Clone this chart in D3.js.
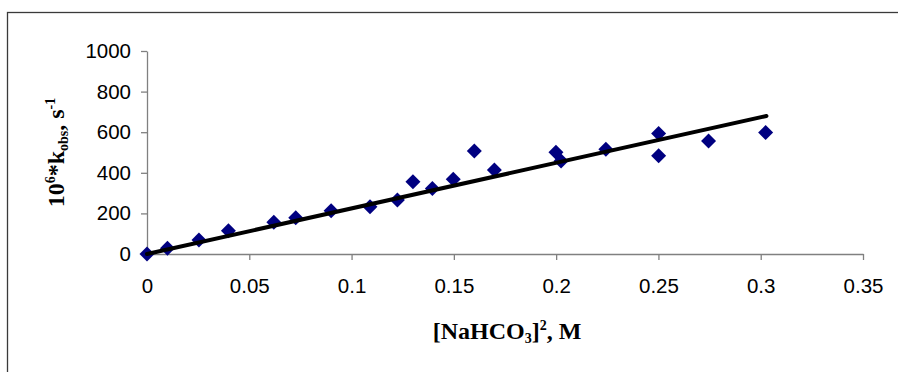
<!DOCTYPE html>
<html>
<head>
<meta charset="utf-8">
<script src="https://cdn.jsdelivr.net/npm/d3@7"></script>
<style>
  body { margin: 0; background: #fff; }
</style>
</head>
<body>
<div id="chart"></div>
<script>
// data
const conc2 = [0, 0.01, 0.0254, 0.0398, 0.062, 0.0727, 0.09, 0.109, 0.1224, 0.130, 0.1395, 0.1497,
               0.160, 0.1698, 0.1999, 0.2024, 0.2243, 0.2501, 0.2501, 0.2745, 0.3024];
const kobs = [0, 28, 69, 115, 156, 179, 213, 233, 266, 356, 323, 368,
              507, 414, 501, 458, 516, 594, 484, 557, 598];
// trend line end points
const trendX = [0, 0.3028];
const trendY = [0, 680];
const xTicks = [0, 0.05, 0.1, 0.15, 0.2, 0.25, 0.3, 0.35];
const xTickLabels = ["0", "0.05", "0.1", "0.15", "0.2", "0.25", "0.3", "0.35"];
const yTicks = [0, 200, 400, 600, 800, 1000];

const margin = {top: 51, left: 147},
      width = 716,
      height = 203;

const svg = d3.select("#chart")
    .append("svg")
    .attr("width", 898)
    .attr("height", 372);

// outer frame (runs off right and bottom edges)
svg.append("rect")
    .attr("x", 7.5)
    .attr("y", 12.5)
    .attr("width", 1000)
    .attr("height", 500)
    .attr("fill", "none")
    .attr("stroke", "#3a3a3a")
    .attr("stroke-width", 1.3);

const g = svg.append("g")
    .attr("transform", `translate(${margin.left},${margin.top})`);

const x = d3.scaleLinear().domain([0, 0.35]).range([0, width]);
const y = d3.scaleLinear().domain([0, 1000]).range([height, 0]);

// X axis
const xAxis = g.append("g")
    .attr("transform", `translate(0,${height})`)
    .call(d3.axisBottom(x)
        .tickValues(xTicks)
        .tickFormat((d, i) => xTickLabels[i])
        .tickSize(6)
        .tickSizeOuter(0)
        .tickPadding(18.5));

// Y axis
const yAxis = g.append("g")
    .call(d3.axisLeft(y)
        .tickValues(yTicks)
        .tickFormat(d3.format("d"))
        .tickSize(6)
        .tickSizeOuter(0)
        .tickPadding(10));

[xAxis, yAxis].forEach(a => {
    a.select(".domain").attr("stroke", "#808080").attr("stroke-width", 1.3);
    a.selectAll(".tick line").attr("stroke", "#808080").attr("stroke-width", 1.3);
    a.selectAll(".tick text")
        .attr("fill", "#000")
        .style("font-family", "'Liberation Sans', Arial, sans-serif")
        .style("font-size", "20.5px");
});

// data points (diamonds)
const diamond = d3.symbol().type(d3.symbolSquare).size(112);
g.selectAll("path.pt")
    .data(conc2.map((c, i) => ({c: c, k: kobs[i]})))
    .enter().append("path")
    .attr("class", "pt")
    .attr("d", diamond)
    .attr("transform", d => `translate(${x(d.c)},${y(d.k)}) rotate(45)`)
    .attr("fill", "#000080");

// trend line
g.append("path")
    .datum(trendX.map((v, i) => [v, trendY[i]]))
    .attr("fill", "none")
    .attr("stroke", "#000")
    .attr("stroke-width", 4)
    .attr("stroke-linecap", "round")
    .attr("d", d3.line().x(d => x(d[0])).y(d => y(d[1])));

// X axis title
const xt = svg.append("text")
    .attr("x", margin.left + width / 2 + 2)
    .attr("y", 339)
    .attr("text-anchor", "middle")
    .style("font-family", "'Liberation Serif', 'Times New Roman', serif")
    .style("font-weight", "bold")
    .style("font-size", "24px");
xt.append("tspan").text("[NaHCO");
xt.append("tspan").attr("dy", 4).style("font-size", "14px").text("3");
xt.append("tspan").attr("dy", -4).text("]");
xt.append("tspan").attr("dy", -9).style("font-size", "14px").text("2");
xt.append("tspan").attr("dy", 9).text(", M");

// Y axis title
const yt = svg.append("text")
    .attr("transform", `translate(64,${margin.top + height / 2}) rotate(-90)`)
    .attr("text-anchor", "middle")
    .style("font-family", "'Liberation Serif', 'Times New Roman', serif")
    .style("font-weight", "bold")
    .style("font-size", "24px");
yt.append("tspan").text("10");
yt.append("tspan").attr("dy", -9).style("font-size", "14px").text("6");
yt.append("tspan").attr("dy", 9).text("*k");
yt.append("tspan").attr("dy", 4).style("font-size", "14px").text("obs");
yt.append("tspan").attr("dy", -4).text(", s");
yt.append("tspan").attr("dy", -9).style("font-size", "14px").text("-1");
</script>
</body>
</html>
